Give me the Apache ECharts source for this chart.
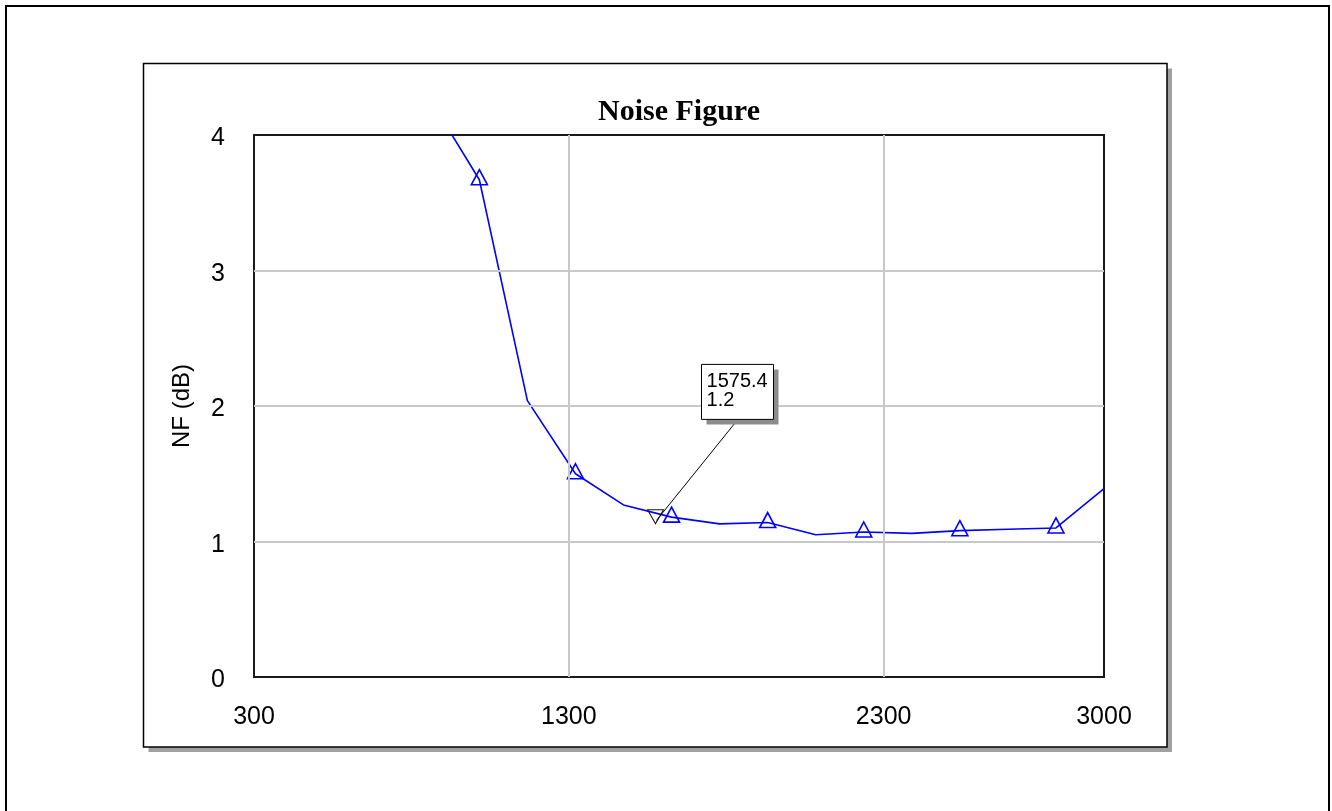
<!DOCTYPE html>
<html>
<head>
<meta charset="utf-8">
<style>
html,body{margin:0;padding:0;background:#fff;}
#chart{width:1332px;height:811px;}
</style>
<script src="https://cdn.jsdelivr.net/npm/echarts@6/dist/echarts.min.js"></script>
</head>
<body>
<div id="chart"></div>
<script>
// ---- data ----
var freqMHz = [863.2, 1015.8, 1168.4, 1321.1, 1473.7, 1626.3, 1778.9, 1931.6, 2084.2, 2236.8, 2389.5, 2542.1, 2694.7, 2847.4, 3000];
var nfDb    = [4.25, 3.67, 2.04, 1.50, 1.27, 1.18, 1.13, 1.14, 1.05, 1.07, 1.06, 1.08, 1.09, 1.10, 1.39];
var xTickLabels = [300, 1300, 2300, 3000];
var yTickLabels = [0, 1, 2, 3, 4];
var xGridLines = [1300, 2300];
var yGridLines = [1, 2, 3];
var markerFreq = 1575.4;
var markerNF = 1.2;
var titleText = 'Noise Figure';
var yName = 'NF (dB)';

var chart = echarts.init(document.getElementById('chart'), null, {renderer: 'canvas'});

var seriesData = freqMHz.map(function (f, i) { return [f, nfDb[i]]; });

var option = {
  animation: false,
  backgroundColor: '#ffffff',
  title: {
    text: titleText,
    left: 679,
    top: 97,
    padding: 0,
    textAlign: 'center',
    textStyle: {fontFamily: 'Liberation Serif', fontWeight: 'bold', fontSize: 30, color: '#000'}
  },
  grid: {
    left: 254, top: 135, width: 850, height: 542,
    show: true, borderColor: '#1a1a1a', borderWidth: 2, backgroundColor: 'rgba(0,0,0,0)'
  },
  xAxis: {
    type: 'value', min: 300, max: 3000, interval: 100,
    axisLine: {show: false}, axisTick: {show: false}, splitLine: {show: false},
    axisLabel: {
      margin: 28, fontFamily: 'Liberation Sans', fontSize: 25, color: '#000',
      formatter: function (v) { return xTickLabels.indexOf(Math.round(v)) >= 0 ? String(Math.round(v)) : ''; }
    }
  },
  yAxis: {
    type: 'value', min: 0, max: 4, interval: 1,
    axisLine: {show: false}, axisTick: {show: false}, splitLine: {show: false},
    axisLabel: {
      margin: 29, fontFamily: 'Liberation Sans', fontSize: 25, color: '#000',
      formatter: function (v) { return yTickLabels.indexOf(v) >= 0 ? '{t|' + v + '}' : ''; },
      rich: {t: {fontFamily: 'Liberation Sans', fontSize: 25, color: '#000', padding: [7, 0, 0, 0]}}
    },
    name: yName, nameLocation: 'middle', nameGap: 60, nameRotate: 90,
    nameTextStyle: {fontFamily: 'Liberation Sans', fontSize: 24, color: '#000'}
  },
  series: [
    {
      type: 'line', data: [], z: 1, silent: true,
      markLine: {
        silent: true, symbol: 'none', animation: false,
        label: {show: false},
        lineStyle: {color: '#c8c8c8', width: 2, type: 'solid'},
        data: xGridLines.map(function (v) { return {xAxis: v}; })
          .concat(yGridLines.map(function (v) { return {yAxis: v}; }))
      }
    },
    {
      type: 'line', data: seriesData, z: 3, clip: true,
      showAllSymbol: true,
      symbol: function (value, params) { return params.dataIndex % 2 === 1 ? 'triangle' : 'none'; },
      symbolSize: [16, 15],
      symbolOffset: [0, -2.5],
      lineStyle: {color: '#0000ff', width: 1.6},
      itemStyle: {color: 'rgba(0,0,0,0)', borderColor: '#0000ff', borderWidth: 1.6},
      emphasis: {disabled: true},
      markPoint: {
        silent: true, animation: false,
        data: [{
          coord: [markerFreq, markerNF],
          symbol: 'path://M0,0L16,0L8,14Z',
          symbolSize: [16, 14],
          symbolOffset: [0, 2.3],
          itemStyle: {color: 'rgba(0,0,0,0)', borderColor: '#111', borderWidth: 1},
          label: {show: false}
        }]
      }
    }
  ]
};
chart.setOption(option);

var p = chart.convertToPixel({gridIndex: 0}, [markerFreq, markerNF]);
var boxX = p[0] + 46, boxY = p[1] - 150, boxW = 72, boxH = 55;

chart.setOption({
  graphic: [
    {type: 'rect', id: 'outer', z: -20, silent: true,
      shape: {x: 6, y: 6, width: 1323, height: 830},
      style: {fill: '#fff', stroke: '#000', lineWidth: 2}},
    {type: 'rect', id: 'innerShadow', z: -19, silent: true,
      shape: {x: 148.5, y: 68.5, width: 1023.5, height: 683.5},
      style: {fill: '#a0a0a0', stroke: null}},
    {type: 'rect', id: 'inner', z: -18, silent: true,
      shape: {x: 143.5, y: 63.5, width: 1023.5, height: 683.5},
      style: {fill: '#fff', stroke: '#000', lineWidth: 1.5}},
    {type: 'line', id: 'leader', z: 50, silent: true,
      shape: {x1: p[0] + 1, y1: p[1] + 6, x2: p[0] + 80, y2: p[1] - 92},
      style: {stroke: '#000', lineWidth: 1}},
    {type: 'rect', id: 'boxShadow', z: 51, silent: true,
      shape: {x: boxX + 5, y: boxY + 5, width: boxW, height: boxH},
      style: {fill: '#8c8c8c'}},
    {type: 'rect', id: 'box', z: 52, silent: true,
      shape: {x: boxX, y: boxY, width: boxW, height: boxH},
      style: {fill: '#fff', stroke: '#000', lineWidth: 1}},
    {type: 'text', id: 'boxText', z: 53, silent: true,
      x: boxX + 5, y: boxY + 8,
      style: {text: markerFreq.toFixed(1) + '\n' + markerNF.toFixed(1),
        font: '20px "Liberation Sans"', fill: '#000', lineHeight: 19, align: 'left', verticalAlign: 'top'}}
  ]
});
</script>
</body>
</html>
